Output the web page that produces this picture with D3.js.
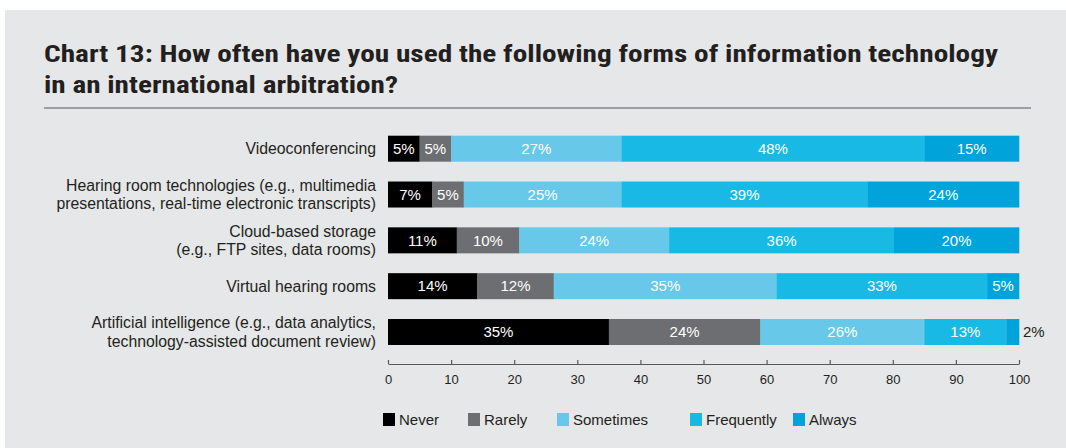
<!DOCTYPE html>
<html><head><meta charset="utf-8">
<script src="https://cdn.jsdelivr.net/npm/d3@7"></script>
<style>
html,body{margin:0;padding:0;background:#fff;}
svg{display:block;}
</style></head>
<body>
<svg id="chart" width="1066" height="448"></svg>
<script>
const categories = [
  ["Videoconferencing"],
  ["Hearing room technologies (e.g., multimedia", "presentations, real-time electronic transcripts)"],
  ["Cloud-based storage", "(e.g., FTP sites, data rooms)"],
  ["Virtual hearing rooms"],
  ["Artificial intelligence (e.g., data analytics,", "technology-assisted document review)"]
];
const seriesNames = ["Never", "Rarely", "Sometimes", "Frequently", "Always"];
const never      = [5, 7, 11, 14, 35];
const rarely     = [5, 5, 10, 12, 24];
const sometimes  = [27, 25, 24, 35, 26];
const frequently = [48, 39, 36, 33, 13];
const always     = [15, 24, 20, 5, 2];
const tickValues = [0, 10, 20, 30, 40, 50, 60, 70, 80, 90, 100];
const colors = ["#000000", "#6d6e71", "#67c8ea", "#19b9e6", "#00a3da"];
const title = ["Chart 13: How often have you used the following forms of information technology", "in an international arbitration?"];

const seriesValues = [never, rarely, sometimes, frequently, always];
const svg = d3.select("#chart");
const W = 1066, H = 448;

svg.append("rect").attr("x", 5).attr("y", 10).attr("width", W - 5).attr("height", H - 10).attr("fill", "#e6e7e8");

const titleFont = "'Liberation Sans Narrow','Arial Narrow','Roboto Condensed',sans-serif";
const titleLens = [954, 354];
title.forEach((t, i) => svg.append("text").attr("x", 44).attr("y", 62 + i * 31)
  .attr("font-family", titleFont).attr("font-weight", "bold").attr("font-size", 24.5).attr("fill", "#231f20")
  .attr("textLength", titleLens[i]).attr("lengthAdjust", "spacingAndGlyphs").text(t));

svg.append("line").attr("x1", 44).attr("x2", 1031).attr("y1", 108).attr("y2", 108)
  .attr("stroke", "#9d9fa2").attr("stroke-width", 2);

const x = d3.scaleLinear().domain([0, 100]).range([388, 1019]);
const y = d3.scalePoint().domain(d3.range(categories.length)).range([148.7, 332]);

const rows = categories.map((c, i) => {
  let acc = 0;
  return seriesValues.map((s, k) => {
    const d = {row: i, k: k, v: s[i], x0: acc, x1: acc + s[i]};
    acc += s[i];
    return d;
  });
});

const bh = 26;
const cy = i => y(i);

const g = svg.append("g");
rows.forEach((segs, i) => {
  const total = d3.sum(segs, d => d.v);
  const sc = 100 / total;
  g.selectAll(null).data(segs).enter().append("rect")
    .attr("x", d => x(d.x0 * sc))
    .attr("width", d => x(d.x1 * sc) - x(d.x0 * sc) + 0.3)
    .attr("y", cy(i) - bh / 2).attr("height", bh)
    .attr("fill", d => colors[d.k]);
  g.selectAll(null).data(segs).enter().append("text")
    .attr("x", d => d.v <= 2 ? x(100) + 4 : x((d.x0 + d.x1) / 2 * sc))
    .attr("y", cy(i)).attr("dy", "0.35em")
    .attr("text-anchor", d => d.v <= 2 ? "start" : "middle")
    .attr("font-family", "'Liberation Sans Narrow','Arial Narrow',sans-serif")
    .attr("font-size", 15)
    .attr("fill", d => d.v <= 2 ? "#231f20" : "#ffffff")
    .text(d => d.v + "%");
  const lines = categories[i];
  const lt = svg.append("text").attr("text-anchor", "end")
    .attr("font-family", "'Liberation Sans',Arial,sans-serif").attr("font-size", 15.8).attr("fill", "#231f20");
  lines.forEach((l, j) => lt.append("tspan").attr("x", 376)
    .attr("y", cy(i) + (j - (lines.length - 1) / 2) * 18.5).attr("dy", "0.35em").text(l));
});

const axis = d3.axisBottom(x).tickValues(tickValues).tickSize(-4).tickPadding(11).tickSizeOuter(0);
const ag = svg.append("g").attr("transform", "translate(0,364)").call(axis);
ag.select(".domain").attr("stroke", "#58595b").attr("stroke-width", 1.2);
ag.selectAll(".tick line").attr("stroke", "#58595b").attr("stroke-width", 1.2);
ag.selectAll(".tick text").attr("font-family", "'Liberation Sans Narrow','Arial Narrow',sans-serif")
  .attr("font-size", 13).attr("fill", "#231f20");

const legendX = [383, 468, 557, 690, 793];
const lg = svg.append("g");
seriesNames.forEach((n, k) => {
  lg.append("rect").attr("x", legendX[k]).attr("y", 413).attr("width", 12).attr("height", 13).attr("fill", colors[k]);
  lg.append("text").attr("x", legendX[k] + 16).attr("y", 419.5).attr("dy", "0.35em")
    .attr("font-family", "'Liberation Sans Narrow','Arial Narrow',sans-serif").attr("font-size", 15)
    .attr("fill", "#231f20").text(n);
});
</script>
</body></html>
